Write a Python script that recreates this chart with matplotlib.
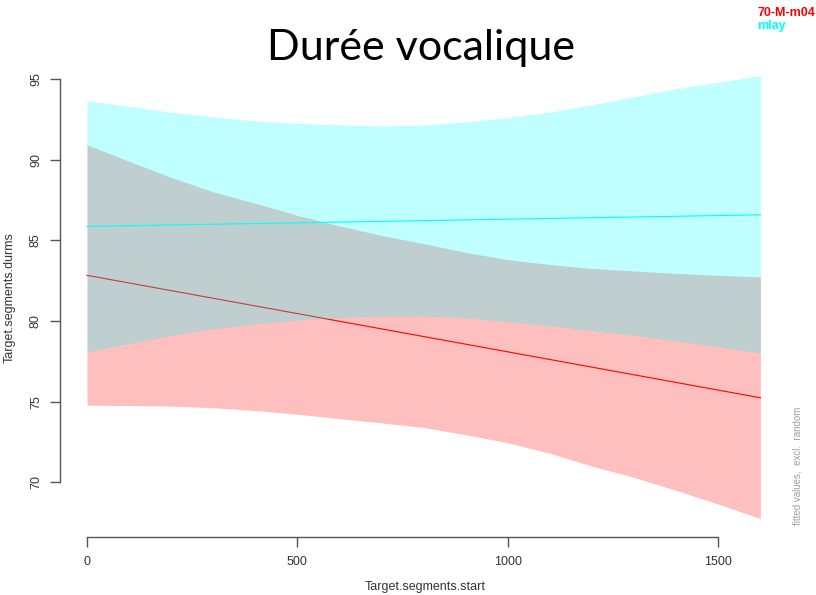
import matplotlib
matplotlib.use("Agg")
import matplotlib.pyplot as plt
import numpy as np

# fitted effect of Target.segments.start
x_grid = [0, 100, 200, 300, 400, 500, 600, 700, 800,
          900, 1000, 1100, 1200, 1300, 1400, 1500, 1600]

# 70-M-m04 (red)
red_fit = [82.83, 75.24]            # at x = 0 and x = 1600
red_upper = [90.92, 89.9, 88.9, 88.0, 87.3, 86.55, 85.9, 85.3, 84.8,
             84.25, 83.8, 83.5, 83.25, 83.1, 82.95, 82.83, 82.73]
red_lower = [74.78, 74.76, 74.72, 74.62, 74.45, 74.22, 73.95, 73.68, 73.4,
             72.95, 72.45, 71.8, 71.0, 70.3, 69.5, 68.65, 67.75]

# mlay (cyan)
cyan_fit = [85.86, 86.58]
cyan_upper = [93.66, 93.3, 92.95, 92.65, 92.4, 92.25, 92.15, 92.1, 92.15,
              92.35, 92.6, 92.95, 93.4, 93.9, 94.4, 94.8, 95.2]
cyan_lower = [78.06, 78.6, 79.1, 79.5, 79.8, 80.05, 80.2, 80.28, 80.3,
              80.2, 79.95, 79.7, 79.4, 79.1, 78.75, 78.4, 78.0]

fit_x = [0, 1600]
xticks = [0, 500, 1000, 1500]
yticks = [70, 75, 80, 85, 90, 95]

plt.rcParams['font.family'] = ['Liberation Sans', 'DejaVu Sans']

fig = plt.figure(figsize=(8.16, 5.95), dpi=100)
ax = fig.add_axes([60 / 816, 58 / 595, 729 / 816, 479 / 595])

# red band + line first, cyan band over it so the overlap turns grey
ax.fill_between(x_grid, red_lower, red_upper, color='red', alpha=0.25, linewidth=0, zorder=1)
ax.plot(fit_x, red_fit, color='red', lw=0.8, zorder=1.1)
ax.fill_between(x_grid, cyan_lower, cyan_upper, color='cyan', alpha=0.25, linewidth=0, zorder=1.2)
ax.plot(fit_x, cyan_fit, color='cyan', lw=0.8, zorder=1.3)

ax.set_xlim(-64, 1668)
ax.set_ylim(66.61, 96.3)

for s in ['top', 'right']:
    ax.spines[s].set_visible(False)
ax.spines['left'].set_bounds(70, 95)
ax.spines['bottom'].set_bounds(0, 1500)
for s in ['left', 'bottom']:
    ax.spines[s].set_color('#555555')
    ax.spines[s].set_linewidth(1)

ax.set_xticks(xticks)
ax.set_yticks(yticks)
ax.tick_params(direction='out', length=7, width=1, color='#555555',
               labelcolor='#333333', labelsize=9)
ax.tick_params(axis='x', pad=7)
ax.tick_params(axis='y', pad=6)
for lab in ax.get_yticklabels():
    lab.set_rotation(90)
    lab.set_va('center')

fig.text(425 / 816, 1 - 587 / 595, 'Target.segments.start', ha='center', va='center',
         fontsize=9, color='#333333')
fig.text(10 / 816, 1 - 298 / 595, 'Target.segments.durms', ha='center', va='center',
         rotation=90, fontsize=9, color='#333333')

fig.text(421 / 816, 1 - 48 / 595, 'Durée vocalique', ha='center', va='center',
         fontsize=31, color='black', family=['Lato', 'DejaVu Sans'])

fig.text(757 / 816, 1 - 13 / 595, '70-M-m04', ha='left', va='center',
         fontsize=9, fontweight='bold', color='red')
fig.text(757 / 816, 1 - 26 / 595, 'mlay', ha='left', va='center',
         fontsize=9, fontweight='bold', color='cyan')

fig.text(798 / 816, 1 - 466 / 595, 'fitted values,  excl.  random', ha='center', va='center',
         rotation=90, fontsize=7, color='#a0a0a0')

fig.savefig('out.png', dpi=100)
